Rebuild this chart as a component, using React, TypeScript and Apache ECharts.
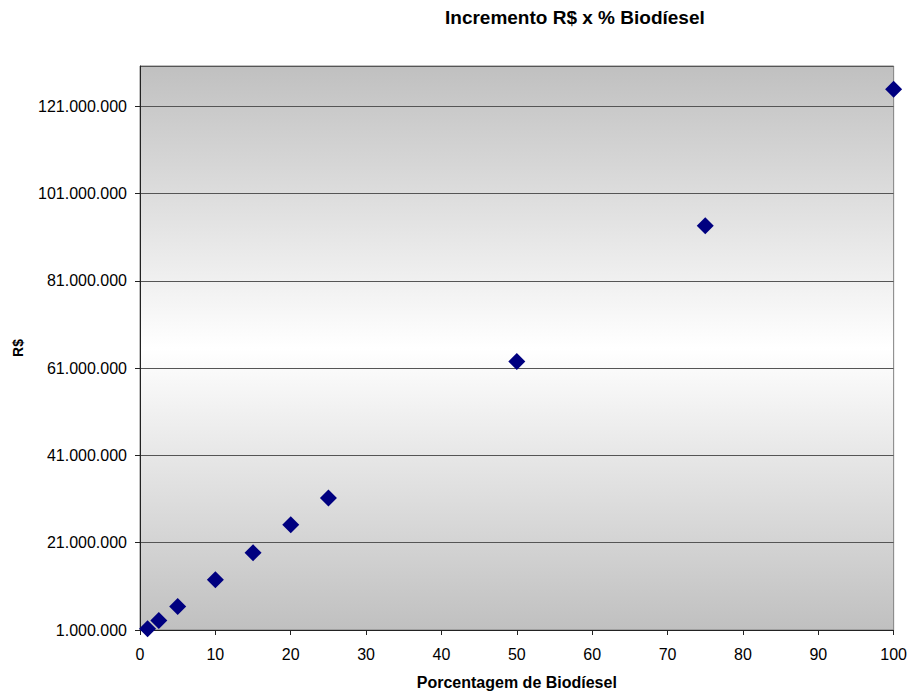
import React, { useEffect, useRef } from "react";
import * as echarts from "echarts";

const percentages = [1, 2.5, 5, 10, 15, 20, 25, 50, 75, 100];
const increments = [1270000, 3170000, 6380000, 12500000, 18700000, 25100000, 31250000, 62500000, 93600000, 124850000];

const chartTitle = "Incremento R$ x % Biodíesel";
const xTitle = "Porcentagem de Biodíesel";
const yTitle = "R$";

const fmt = (v: number) => String(Math.round(v)).replace(/\B(?=(\d{3})+(?!\d))/g, ".");

export default function App() {
  const ref = useRef<HTMLDivElement>(null);
  useEffect(() => {
    if (!ref.current) return;
    document.body.style.margin = "0";
    const chart = echarts.init(ref.current, null, { renderer: "svg" });
    const font = "'Liberation Sans', Arial, sans-serif";
    chart.setOption({
      animation: false,
      backgroundColor: "#ffffff",
      textStyle: { fontFamily: font },
      title: {
        text: chartTitle,
        left: 440,
        top: 3,
        textStyle: { fontFamily: font, fontSize: 19, fontWeight: "bold", color: "#000" },
      },
      grid: {
        left: 140,
        right: 15,
        top: 66,
        bottom: 64,
        show: true,
        borderColor: "#808080",
        borderWidth: 1,
        backgroundColor: {
          type: "linear",
          x: 0,
          y: 0,
          x2: 0,
          y2: 1,
          colorStops: [
            { offset: 0, color: "#c0c0c0" },
            { offset: 0.5, color: "#ffffff" },
            { offset: 1, color: "#c0c0c0" },
          ],
        },
      },
      xAxis: {
        type: "value",
        min: 0,
        max: 100,
        interval: 10,
        name: xTitle,
        nameLocation: "middle",
        nameGap: 44,
        nameTextStyle: { fontFamily: font, fontSize: 16, fontWeight: "bold", color: "#000" },
        axisLine: { show: true, onZero: false, lineStyle: { color: "#222", width: 1 } },
        axisTick: { show: true, inside: false, length: 5, lineStyle: { color: "#222" } },
        axisLabel: { fontFamily: font, fontSize: 16, color: "#000", margin: 16 },
        splitLine: { show: false },
      },
      yAxis: {
        type: "value",
        min: 1000000,
        max: 130200000,
        interval: 20000000,
        name: yTitle,
        nameLocation: "middle",
        nameGap: 115,
        nameRotate: 90,
        nameTextStyle: { fontFamily: font, fontSize: 14, fontWeight: "bold", color: "#000" },
        axisLine: { show: true, onZero: false, lineStyle: { color: "#222", width: 1 } },
        axisTick: { show: true, inside: false, length: 5, lineStyle: { color: "#222" } },
        axisLabel: {
          fontFamily: font,
          fontSize: 16,
          color: "#000",
          margin: 13,
          showMaxLabel: false,
          formatter: (v: number) => fmt(v),
        },
        splitLine: { show: true, lineStyle: { color: "#555", width: 1 } },
      },
      series: [
        {
          type: "scatter",
          data: percentages.map((p, i) => [p, increments[i]]),
          symbol: "diamond",
          symbolSize: 17,
          itemStyle: { color: "#000080", opacity: 1 },
        },
      ],
    });
    return () => chart.dispose();
  }, []);
  return <div ref={ref} style={{ width: 910, height: 695 }} />;
}
